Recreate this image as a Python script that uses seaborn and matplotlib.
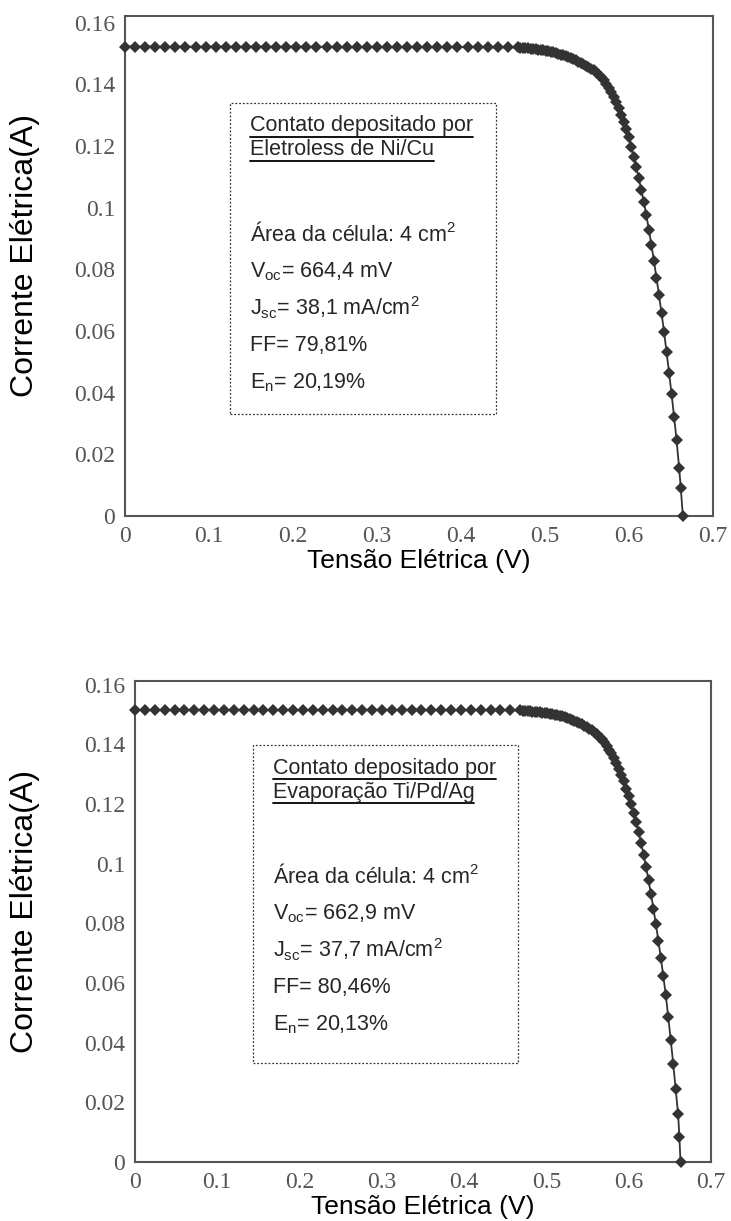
import matplotlib
matplotlib.use("Agg")
import matplotlib.pyplot as plt
from matplotlib.patches import Rectangle
from matplotlib.lines import Line2D
import seaborn as sns

# voltage sweep on the flat part (same for both cells)
v_plateau = [0.000, 0.012, 0.024, 0.036, 0.048, 0.060, 0.072, 0.084, 0.096, 0.108,
             0.120, 0.132, 0.144, 0.156, 0.168, 0.180, 0.192, 0.204, 0.216, 0.228,
             0.240, 0.252, 0.264, 0.276, 0.288, 0.300, 0.312, 0.324, 0.336, 0.348,
             0.360, 0.372, 0.384, 0.396, 0.408, 0.420, 0.432, 0.444, 0.456, 0.468]

# Ni/Cu electroless contact
i_plateau_nicu = [0.1523, 0.1523, 0.1523, 0.1523, 0.1522, 0.1523, 0.1523, 0.1522, 0.1523, 0.1523,
                  0.1523, 0.1522, 0.1523, 0.1523, 0.1523, 0.1522, 0.1523, 0.1523, 0.1522, 0.1522,
                  0.1522, 0.1521, 0.1520, 0.1521, 0.1521, 0.1521, 0.1521, 0.1521, 0.1521, 0.1521,
                  0.1521, 0.1521, 0.1521, 0.1521, 0.1521, 0.1521, 0.1520, 0.1520, 0.1520, 0.1520]
v_knee_nicu = [0.471, 0.474, 0.477, 0.480, 0.483, 0.486, 0.489, 0.492, 0.495, 0.498,
               0.501, 0.504, 0.507, 0.510, 0.513, 0.516, 0.519, 0.522, 0.525, 0.528,
               0.531, 0.534, 0.537, 0.540, 0.543, 0.546, 0.549, 0.552, 0.555, 0.558,
               0.561, 0.564, 0.567, 0.570, 0.573, 0.576, 0.579, 0.582, 0.585, 0.588,
               0.591, 0.594, 0.597, 0.600, 0.603, 0.606, 0.609, 0.612, 0.615, 0.618,
               0.621, 0.624, 0.627, 0.630, 0.633, 0.636, 0.639, 0.642, 0.645, 0.648,
               0.651, 0.654, 0.657, 0.660, 0.662, 0.6644]
i_knee_nicu = [0.1519, 0.1518, 0.1518, 0.1517, 0.1516, 0.1515, 0.1514, 0.1513, 0.1512, 0.1511,
               0.1509, 0.1508, 0.1506, 0.1504, 0.1502, 0.1499, 0.1497, 0.1494, 0.1491, 0.1488,
               0.1485, 0.1481, 0.1478, 0.1474, 0.1470, 0.1466, 0.1461, 0.1456, 0.1451, 0.1446,
               0.1439, 0.1431, 0.1423, 0.1415, 0.1402, 0.1389, 0.1375, 0.1360, 0.1342, 0.1323,
               0.1302, 0.1279, 0.1254, 0.1228, 0.1196, 0.1164, 0.1131, 0.1095, 0.1057, 0.1018,
               0.0975, 0.0928, 0.0879, 0.0828, 0.0773, 0.0717, 0.0659, 0.0598, 0.0532, 0.0465,
               0.0395, 0.0322, 0.0245, 0.0155, 0.0090, 0.0000]

# Ti/Pd/Ag evaporated contact
i_plateau_tipdag = [0.1516, 0.1516, 0.1516, 0.1516, 0.1516, 0.1516, 0.1516, 0.1516, 0.1516, 0.1516,
                    0.1516, 0.1516, 0.1516, 0.1516, 0.1516, 0.1516, 0.1516, 0.1516, 0.1516, 0.1516,
                    0.1516, 0.1516, 0.1516, 0.1516, 0.1516, 0.1516, 0.1516, 0.1516, 0.1515, 0.1515,
                    0.1515, 0.1515, 0.1515, 0.1515, 0.1515, 0.1515, 0.1515, 0.1515, 0.1514, 0.1514]
v_knee_tipdag = [0.471, 0.474, 0.477, 0.480, 0.483, 0.486, 0.489, 0.492, 0.495, 0.498,
                 0.501, 0.504, 0.507, 0.510, 0.513, 0.516, 0.519, 0.522, 0.525, 0.528,
                 0.531, 0.534, 0.537, 0.540, 0.543, 0.546, 0.549, 0.552, 0.555, 0.558,
                 0.561, 0.564, 0.567, 0.570, 0.573, 0.576, 0.579, 0.582, 0.585, 0.588,
                 0.591, 0.594, 0.597, 0.600, 0.603, 0.606, 0.609, 0.612, 0.615, 0.618,
                 0.621, 0.624, 0.627, 0.630, 0.633, 0.636, 0.639, 0.642, 0.645, 0.648,
                 0.651, 0.654, 0.657, 0.660, 0.6615, 0.6629]
i_knee_tipdag = [0.1513, 0.1512, 0.1512, 0.1511, 0.1510, 0.1510, 0.1509, 0.1508, 0.1507, 0.1506,
                 0.1505, 0.1503, 0.1502, 0.1500, 0.1498, 0.1496, 0.1494, 0.1491, 0.1489, 0.1486,
                 0.1483, 0.1479, 0.1476, 0.1472, 0.1468, 0.1463, 0.1459, 0.1453, 0.1447, 0.1441,
                 0.1434, 0.1426, 0.1417, 0.1408, 0.1396, 0.1383, 0.1370, 0.1355, 0.1337, 0.1318,
                 0.1298, 0.1276, 0.1252, 0.1228, 0.1199, 0.1170, 0.1140, 0.1107, 0.1070, 0.1031,
                 0.0990, 0.0945, 0.0898, 0.0850, 0.0797, 0.0742, 0.0684, 0.0623, 0.0560, 0.0485,
                 0.0410, 0.0330, 0.0245, 0.0160, 0.0085, 0.0000]

x_ticks = [0, 0.1, 0.2, 0.3, 0.4, 0.5, 0.6, 0.7]
x_ticklabels = ["0", "0.1", "0.2", "0.3", "0.4", "0.5", "0.6", "0.7"]
y_ticks = [0, 0.02, 0.04, 0.06, 0.08, 0.1, 0.12, 0.14, 0.16]
y_ticklabels = ["0", "0.02", "0.04", "0.06", "0.08", "0.1", "0.12", "0.14", "0.16"]

titles = [["Contato depositado por", "Eletroless de Ni/Cu"],
          ["Contato depositado por", "Evaporação Ti/Pd/Ag"]]
params = [["Área da célula: 4 cm$^{2}$", "V$_{oc}$= 664,4 mV", "J$_{sc}$= 38,1 mA/cm$^{2}$",
           "FF= 79,81%", "E$_{n}$= 20,19%"],
          ["Área da célula: 4 cm$^{2}$", "V$_{oc}$= 662,9 mV", "J$_{sc}$= 37,7 mA/cm$^{2}$",
           "FF= 80,46%", "E$_{n}$= 20,13%"]]

sns.set_style("white")
plt.rcParams["font.family"] = ["Liberation Sans", "DejaVu Sans"]
plt.rcParams["mathtext.fontset"] = "custom"
plt.rcParams["mathtext.rm"] = "Liberation Sans"
plt.rcParams["mathtext.it"] = "Liberation Sans"
plt.rcParams["mathtext.default"] = "rm"

fig = plt.figure(figsize=(7.31, 12.21), dpi=100)
ax_top = fig.add_axes([0.171, 0.5774, 0.804, 0.4095])
ax_bot = fig.add_axes([0.1847, 0.0483, 0.788, 0.394])

panels = [
    dict(ax=ax_top, v=v_plateau + v_knee_nicu, i=i_plateau_nicu + i_knee_nicu, ytop=0.1622,
         box=(0.179, 0.204, 0.631, 0.826), tx=0.2126, ty=[0.780, 0.732],
         py=[0.564, 0.488, 0.416, 0.340, 0.266], xl=-0.066, yl=-0.145),
    dict(ax=ax_bot, v=v_plateau + v_knee_tipdag, i=i_plateau_tipdag + i_knee_tipdag, ytop=0.1613,
         box=(0.205, 0.206, 0.665, 0.867), tx=0.239, ty=[0.819, 0.769],
         py=[0.595, 0.516, 0.441, 0.362, 0.285], xl=-0.068, yl=-0.165),
]

underlined = []
for k, p in enumerate(panels):
    ax = p["ax"]
    sns.lineplot(x=p["v"], y=p["i"], ax=ax, estimator=None, sort=False,
                 color="#333333", linewidth=1.3, marker="D", markersize=6.5,
                 markeredgewidth=0, clip_on=False, zorder=3)
    ax.set_xlim(0, 0.7)
    ax.set_ylim(0, p["ytop"])
    ax.set_xticks(x_ticks)
    ax.set_xticklabels(x_ticklabels)
    ax.set_yticks(y_ticks)
    ax.set_yticklabels(y_ticklabels)
    ax.tick_params(direction="in", length=7, width=1.3, color="#444444",
                   labelcolor="#555555", pad=7, top=False, right=False)
    for lab in ax.get_xticklabels() + ax.get_yticklabels():
        lab.set_fontfamily("Liberation Serif")
        lab.set_fontsize(17)
    for s in ax.spines.values():
        s.set_color("#555555")
        s.set_linewidth(1.5)
    ax.set_xlabel("Tensão Elétrica (V)", fontsize=19, color="black")
    ax.set_ylabel("Corrente Elétrica(A)", fontsize=23, color="black")
    ax.xaxis.set_label_coords(0.5, p["xl"])
    ax.yaxis.set_label_coords(p["yl"], 0.52)

    x0, y0, x1, y1 = p["box"]
    ax.add_patch(Rectangle((x0, y0), x1 - x0, y1 - y0, transform=ax.transAxes,
                           fill=False, edgecolor="#333333", linewidth=0.9,
                           linestyle=(0, (1.5, 1.5)), zorder=2))
    for line, yy in zip(titles[k], p["ty"]):
        t = ax.text(p["tx"], yy, line, transform=ax.transAxes, fontsize=15.5,
                    va="center", ha="left")
        underlined.append((ax, t))
    for line, yy in zip(params[k], p["py"]):
        ax.text(p["tx"], yy, line, transform=ax.transAxes, fontsize=15.5,
                va="center", ha="left")

# underline the header lines of each box
fig.canvas.draw()
renderer = fig.canvas.get_renderer()
for ax, t in underlined:
    bb = t.get_window_extent(renderer)
    inv = ax.transAxes.inverted()
    (ax0, ay0), (ax1, _) = inv.transform([(bb.x0, bb.y0 - 0.5), (bb.x1, bb.y0)])
    ax.add_line(Line2D([ax0, ax1], [ay0, ay0], transform=ax.transAxes,
                       color="black", linewidth=1.3))

fig.savefig("out.png", dpi=100, facecolor="white")
